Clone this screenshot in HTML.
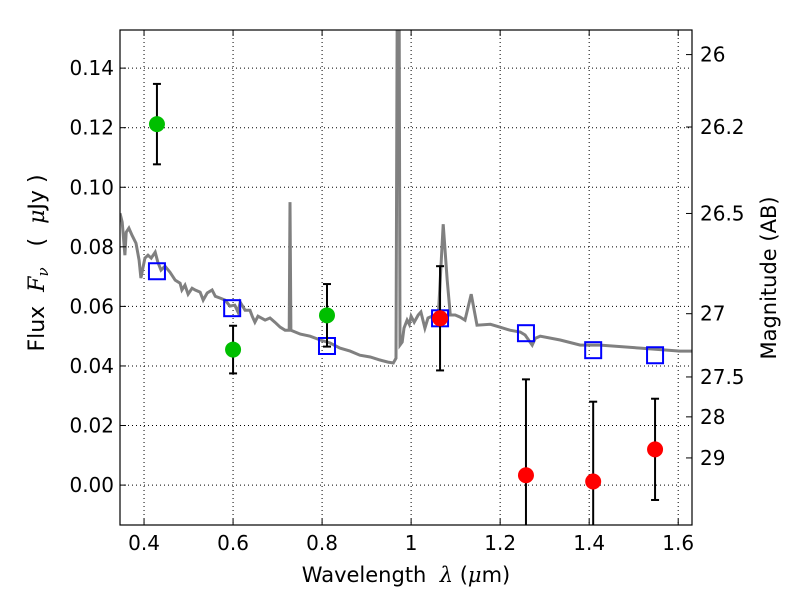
<!DOCTYPE html>
<html><head><meta charset="utf-8"><style>
body{margin:0;background:#fff;position:relative}
svg{font-family:"DejaVu Sans","Liberation Sans",sans-serif}
text{white-space:pre}
</style></head><body>
<svg id="chart" width="800" height="600" xmlns="http://www.w3.org/2000/svg" style="position:absolute;left:0;top:0">
<g id="grid"></g>
<g id="spec"></g>
<g id="marks"></g>
<g id="axes"></g>
</svg>
<script>
const specLam=[0.346,0.351,0.357,0.360,0.366,0.373,0.382,0.389,0.393,0.402,0.409,0.416,0.425,0.431,0.438,0.447,0.458,0.470,0.481,0.485,0.492,0.499,0.508,0.515,0.526,0.533,0.542,0.553,0.560,0.571,0.582,0.593,0.604,0.611,0.616,0.627,0.638,0.643,0.649,0.656,0.672,0.683,0.694,0.706,0.717,0.726,0.728,0.730,0.751,0.773,0.796,0.818,0.840,0.863,0.885,0.908,0.930,0.948,0.960,0.966,0.969,0.973,0.975,0.980,0.984,0.991,0.996,1.000,1.007,1.016,1.022,1.031,1.038,1.047,1.061,1.072,1.081,1.088,1.099,1.110,1.121,1.135,1.148,1.178,1.200,1.222,1.245,1.256,1.272,1.279,1.290,1.335,1.380,1.425,1.515,1.604,1.631];
const specFlux=[0.0913,0.0883,0.0772,0.0849,0.0863,0.0839,0.0812,0.0755,0.0695,0.0762,0.0772,0.0762,0.0782,0.0749,0.0722,0.0735,0.0715,0.0688,0.0678,0.0655,0.0671,0.0641,0.0661,0.0655,0.0648,0.0621,0.0645,0.0655,0.0634,0.0628,0.0621,0.0601,0.0604,0.0581,0.0614,0.0587,0.0587,0.0567,0.0547,0.0567,0.0554,0.0561,0.0547,0.0530,0.0520,0.0520,0.0950,0.0520,0.0507,0.0500,0.0487,0.0477,0.0460,0.0450,0.0436,0.0430,0.0420,0.0413,0.0410,0.0426,0.17,0.17,0.0470,0.0480,0.0527,0.0554,0.0540,0.0567,0.0547,0.0571,0.0581,0.0527,0.0561,0.0567,0.0567,0.0876,0.0688,0.0571,0.0571,0.0564,0.0554,0.0641,0.0537,0.0540,0.0530,0.0520,0.0514,0.0504,0.0470,0.0493,0.0500,0.0487,0.0470,0.0470,0.0460,0.0450,0.0450];
const greenLam=[0.429,0.600,0.811];
const greenFlux=[0.1212,0.0455,0.0570];
const greenErr=[0.0135,0.0080,0.0105];
const redLam=[1.065,1.258,1.409,1.548];
const redFlux=[0.0560,0.0033,0.0012,0.0120];
const redErr=[0.0175,0.0322,0.0268,0.0170];
const modelLam=[0.429,0.598,0.811,1.065,1.258,1.409,1.548];
const modelFlux=[0.0718,0.0594,0.0467,0.0560,0.0510,0.0453,0.0436];
const xTicks=[0.4,0.6,0.8,1.0,1.2,1.4,1.6];
const xTickLabels=["0.4","0.6","0.8","1","1.2","1.4","1.6"];
const yTicks=[0,0.02,0.04,0.06,0.08,0.10,0.12,0.14];
const yTickLabels=["0.00","0.02","0.04","0.06","0.08","0.10","0.12","0.14"];
const magTicks=[26,26.2,26.5,27,27.5,28,29];
const magLabels=["26","26.2","26.5","27","27.5","28","29"];

const L=120,R=692,T=30,B=525,X0=0.346,X1=1.631,Y0=-0.0134,Y1=0.1528;
const sx=v=>L+(v-X0)/(X1-X0)*(R-L);
const sy=v=>B-(v-Y0)/(Y1-Y0)*(B-T);
const NS="http://www.w3.org/2000/svg";
function mk(tag,attrs,parent,text){const e=document.createElementNS(NS,tag);for(const k in attrs)e.setAttribute(k,attrs[k]);if(text!==undefined)e.textContent=text;parent.appendChild(e);return e;}
const grid=document.getElementById('grid'),spec=document.getElementById('spec'),marks=document.getElementById('marks'),axes=document.getElementById('axes');

xTicks.forEach((t,i)=>{
 const g=mk('line',{x1:sx(t),x2:sx(t),y1:T,y2:B,stroke:'#000','stroke-width':1,'stroke-dasharray':'1,3'},grid);
 
 
 mk('line',{x1:sx(t),x2:sx(t),y1:B,y2:B-6,stroke:'#000'},axes);
 mk('line',{x1:sx(t),x2:sx(t),y1:T,y2:T+6,stroke:'#000'},axes);
 const lb=mk('text',{x:sx(t),y:B+25,'font-size':20,'text-anchor':'middle'},axes,xTickLabels[i]);
 
 
});
yTicks.forEach((t,i)=>{
 const g=mk('line',{x1:L,x2:R,y1:sy(t),y2:sy(t),stroke:'#000','stroke-width':1,'stroke-dasharray':'1,3'},grid);
 
 
 mk('line',{x1:L,x2:L+6,y1:sy(t),y2:sy(t),stroke:'#000'},axes);
 const lb=mk('text',{x:L-6,y:sy(t)+7,'font-size':20,'text-anchor':'end'},axes,yTickLabels[i]);
 
 
});
magTicks.forEach((m,i)=>{
 const f=Math.pow(10,(23.9-m)/2.5);
 mk('line',{x1:R,x2:R-6,y1:sy(f),y2:sy(f),stroke:'#000'},axes);
 const lb=mk('text',{x:R+8,y:sy(f)+7,'font-size':20},axes,magLabels[i]);
 
 
});
mk('clipPath',{id:'clip'},spec);
mk('rect',{x:L,y:T,width:R-L,height:B-T},document.getElementById('clip'));
const pts=specLam.map((l,i)=>sx(l).toFixed(1)+','+sy(specFlux[i]).toFixed(1)).join(' ');
const pl=mk('polyline',{points:pts,fill:'none',stroke:'#808080','stroke-width':3,'clip-path':'url(#clip)'},spec);


modelLam.forEach((l,i)=>{
 const r=mk('rect',{x:sx(l)-8,y:sy(modelFlux[i])-8,width:16,height:16,fill:'none',stroke:'#0000ff','stroke-width':2},marks);
 
 
});
function pt(l,f,e,col,name){
 const y1=Math.max(sy(f+e),T),y2=Math.min(sy(f-e),B);
 const g=mk('g',{'clip-path':'url(#clip)'},marks);
 
 
 mk('line',{x1:sx(l),x2:sx(l),y1:y1,y2:y2,stroke:'#000','stroke-width':2},g);
 mk('line',{x1:sx(l)-4,x2:sx(l)+4,y1:sy(f+e),y2:sy(f+e),stroke:'#000','stroke-width':2},g);
 mk('line',{x1:sx(l)-4,x2:sx(l)+4,y1:sy(f-e),y2:sy(f-e),stroke:'#000','stroke-width':2},g);
 mk('circle',{cx:sx(l),cy:sy(f),r:8,fill:col},g);
}
greenLam.forEach((l,i)=>pt(l,greenFlux[i],greenErr[i],'#00bf00','green-photometry-point'));
redLam.forEach((l,i)=>pt(l,redFlux[i],redErr[i],'#ff0000','red-photometry-point'));
const fr=mk('rect',{x:L,y:T,width:R-L,height:B-T,fill:'none',stroke:'#000','stroke-width':1.2},axes);


</script>
<svg width="800" height="600" style="position:absolute;left:0;top:0" xmlns="http://www.w3.org/2000/svg">
<text x="406" y="582" font-size="21" text-anchor="middle" font-family="DejaVu Sans, sans-serif" xml:space="preserve">Wavelength  <tspan font-family="DejaVu Serif, serif" font-style="italic">λ</tspan> (<tspan font-family="DejaVu Serif, serif" font-style="italic">μ</tspan>m)</text>
<text transform="translate(44,263) rotate(-90)" font-size="22" text-anchor="middle" font-family="DejaVu Sans, sans-serif" xml:space="preserve">Flux  <tspan font-family="DejaVu Serif, serif" font-style="italic">F<tspan font-size="15" dy="4">ν</tspan></tspan><tspan dy="-4">   (  </tspan><tspan font-family="DejaVu Serif, serif" font-style="italic">μ</tspan>Jy )</text>
<text transform="translate(776,278) rotate(-90)" font-size="21" text-anchor="middle" font-family="DejaVu Sans, sans-serif">Magnitude (AB)</text>
</svg>
</body></html>
